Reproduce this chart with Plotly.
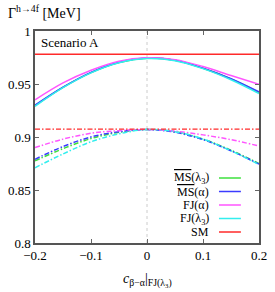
import plotly.graph_objects as go

# x grid (c_{beta-alpha})
x_vals = [-0.2, -0.15, -0.1, -0.05, 0.0, 0.05, 0.1, 0.15, 0.2]

# solid curves (full width)
ms_l3_solid = [0.9295, 0.9468, 0.9607, 0.9702, 0.9744, 0.9723, 0.9648, 0.9548, 0.9420]
ms_a_solid  = [0.9300, 0.9470, 0.9610, 0.9705, 0.9745, 0.9725, 0.9650, 0.9550, 0.9425]
fj_a_solid  = [0.9350, 0.9510, 0.9630, 0.9715, 0.9747, 0.9730, 0.9665, 0.9580, 0.9497]
fj_l3_solid = [0.9290, 0.9465, 0.9605, 0.9700, 0.9740, 0.9720, 0.9645, 0.9540, 0.9410]

# dash-dot curves
ms_l3_dd = [0.8775, 0.8890, 0.8985, 0.9045, 0.9070, 0.9050, 0.8980, 0.8875, 0.8750]
ms_a_dd  = [0.8790, 0.8910, 0.9000, 0.9050, 0.9070, 0.9045, 0.8975, 0.8870, 0.8745]
fj_a_dd  = [0.8900, 0.8980, 0.9035, 0.9060, 0.9070, 0.9055, 0.9020, 0.8975, 0.8915]
fj_l3_dd = [0.8710, 0.8840, 0.8955, 0.9030, 0.9070, 0.9050, 0.8980, 0.8870, 0.8740]

# SM reference values
sm_solid = 0.978
sm_dd = 0.9075

x_ticks = [-0.2, -0.1, 0.0, 0.1, 0.2]
x_tick_labels = ["\u22120.2", "\u22120.1", "0", "0.1", "0.2"]
y_ticks = [0.8, 0.85, 0.9, 0.95, 1.0]
y_tick_labels = ["0.8", "0.85", "0.9", "0.95", "1"]

ob = '<span style="text-decoration:overline">MS</span>'
series = [
    (ob + "(λ<sub>3</sub>)", ms_l3_solid, ms_l3_dd, "#3ee03e"),
    (ob + "(α)", ms_a_solid, ms_a_dd, "#3b3bff"),
    ("FJ(α)", fj_a_solid, fj_a_dd, "#ff55ff"),
    ("FJ(λ<sub>3</sub>)", fj_l3_solid, fj_l3_dd, "#33eeee"),
]

FONT = "Liberation Serif, DejaVu Serif, serif"
DASHDOT = "5px,2px,1.5px,2px"

fig = go.Figure()
for name, ys, yd, col in series:
    fig.add_trace(go.Scatter(x=x_vals, y=ys, mode="lines", line=dict(color=col, width=1.5, shape="spline"), showlegend=False))
    fig.add_trace(go.Scatter(x=x_vals, y=yd, mode="lines", line=dict(color=col, width=1.5, shape="spline", dash=DASHDOT), showlegend=False))

fig.add_trace(go.Scatter(x=[x_vals[0], x_vals[-1]], y=[sm_solid, sm_solid], mode="lines", line=dict(color="#ff2a2a", width=1.5), showlegend=False))
fig.add_trace(go.Scatter(x=[x_vals[0], x_vals[-1]], y=[sm_dd, sm_dd], mode="lines", line=dict(color="#ff2a2a", width=1.2, dash=DASHDOT), showlegend=False))

# vertical dotted line at 0
fig.add_shape(type="line", xref="x", yref="paper", x0=0, x1=0, y0=0, y1=1,
              line=dict(color="#cccccc", width=1, dash="dot"), layer="below")

# custom legend (text right-aligned, sample line on the right)
legend_items = [(s[0], s[3]) for s in series] + [("SM", "#ff2a2a")]
W, H = 235.0, 212.0
y_pix0 = 178.0  # first entry pixel y from top of figure
step = 13.5
for i, (name, col) in enumerate(legend_items):
    ypix = y_pix0 + i * step
    yp = (243.0 - ypix) / H
    fig.add_annotation(xref="paper", yref="paper", x=(217 - 32) / W, y=yp, text=name,
                       showarrow=False, xanchor="right", yanchor="middle",
                       font=dict(family=FONT, size=12, color="#000"))
    fig.add_shape(type="line", xref="paper", yref="paper", x0=(225 - 32) / W, x1=(248 - 32) / W,
                  y0=yp, y1=yp, line=dict(color=col, width=1.5))

fig.add_annotation(xref="paper", yref="paper", x=(36 - 32) / W, y=(243 - 42) / H, text="Scenario A",
                   showarrow=False, xanchor="left", yanchor="middle",
                   font=dict(family=FONT, size=13, color="#000"))
fig.add_annotation(xref="paper", yref="paper", x=(2 - 32) / W, y=(243 - 12) / H,
                   text="Γ<sup>h→4f</sup> [MeV]", showarrow=False, xanchor="left", yanchor="middle",
                   font=dict(family=FONT, size=14, color="#000"))
fig.add_annotation(xref="paper", yref="paper", x=(150 - 32) / W, y=(243 - 280) / H,
                   text="<i>c</i><sub>β−α</sub>|<sub>FJ(λ<sub>3</sub>)</sub>", showarrow=False,
                   xanchor="center", yanchor="middle",
                   font=dict(family=FONT, size=14, color="#000"))

axis_common = dict(showgrid=False, zeroline=False, showline=True, linecolor="#555555", linewidth=1.5,
                   mirror="ticks", ticks="inside", ticklen=4, tickcolor="#666666", tickwidth=1,
                   tickfont=dict(family=FONT, size=13, color="#000"))
fig.update_xaxes(range=[-0.2, 0.2], tickvals=x_ticks, ticktext=x_tick_labels, **axis_common)
fig.update_yaxes(range=[0.8, 1.0], tickvals=y_ticks, ticktext=y_tick_labels, **axis_common)

fig.update_layout(width=275, height=292, margin=dict(l=32, r=8, t=31, b=49),
                  plot_bgcolor="white", paper_bgcolor="white", showlegend=False)
fig.write_html("out.html", config={"displayModeBar": False},
               post_script="document.body.style.margin='0';document.body.style.overflow='hidden';")
